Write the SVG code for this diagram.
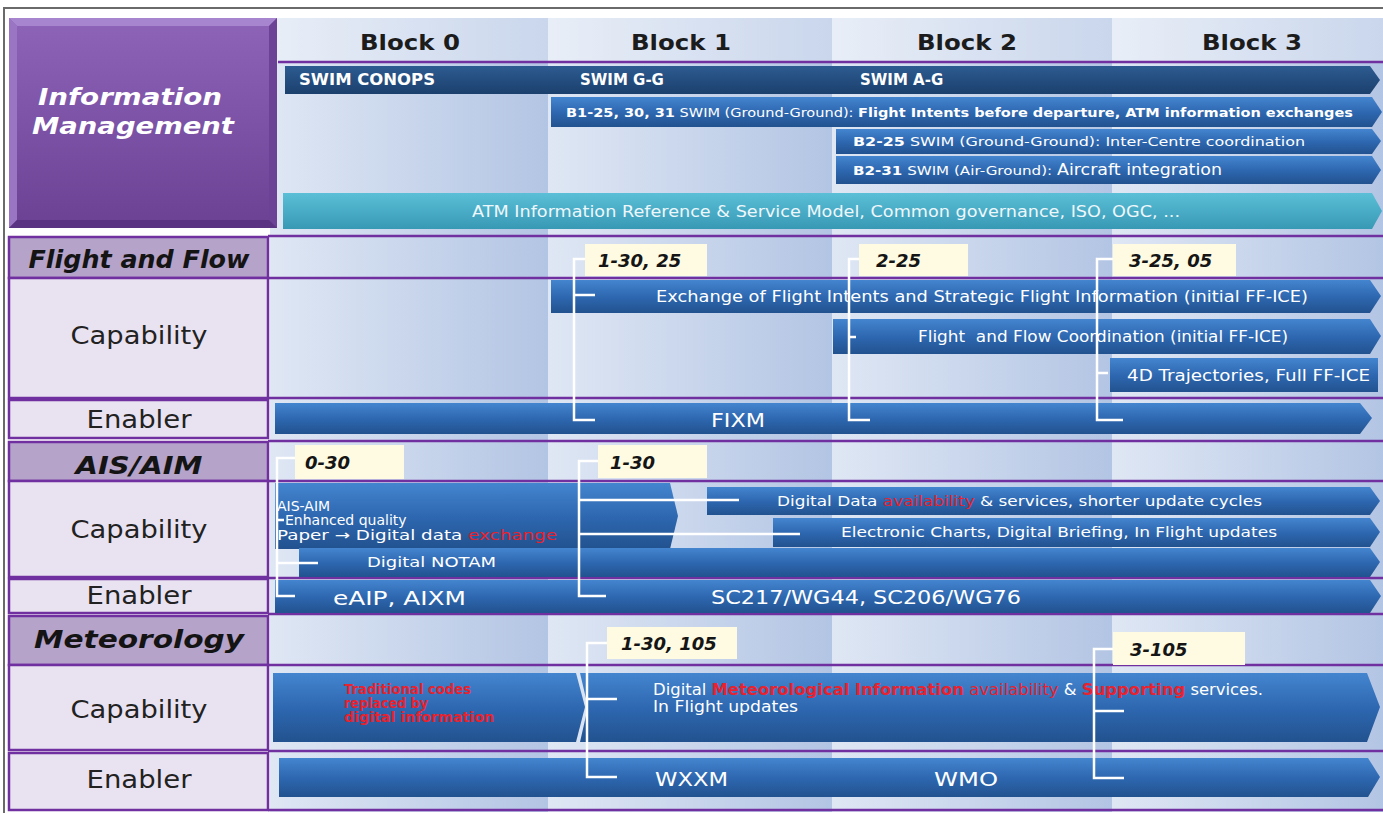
<svg xmlns="http://www.w3.org/2000/svg" width="1383" height="813" viewBox="0 0 1383 813">
<style>
  text { font-family: "DejaVu Sans", "Liberation Sans", sans-serif; }
  .blk { font-size: 22px; font-weight: bold; fill: #1c1c1c; text-anchor: middle; }
  .sec { font-size: 24px; font-weight: bold; font-style: italic; fill: #141414; text-anchor: middle; }
  .sub { font-size: 24px; fill: #222; text-anchor: middle; }
  .w { fill: #ffffff; }
  .b13 { font-size: 13px; }
  .b14 { font-size: 14px; }
  .b15 { font-size: 15px; }
  .b19 { font-size: 19px; }
  .bold { font-weight: bold; }
  .red { fill: #e8222e; }
  .lab { font-size: 18px; font-weight: bold; font-style: italic; fill: #151515; }
  .cell { stroke: #7030a0; stroke-width: 2.5; }
  .sech { fill: #b5a3ca; }
  .subc { fill: #e9e2f0; }
  .grid { stroke: #7030a0; stroke-width: 2.5; fill: none; }
  .bar { fill: url(#barG); }
  .navy { fill: url(#navyG); }
  .teal { fill: url(#tealG); }
  .box { fill: #fffbe3; }
  .br { stroke: #ffffff; stroke-width: 2.5; fill: none; }
</style>
<defs>
  <linearGradient id="colG" x1="0" y1="0" x2="1" y2="0">
    <stop offset="0" stop-color="#dfe7f4"/>
    <stop offset="1" stop-color="#b3c5e4"/>
  </linearGradient>
  <linearGradient id="barG" x1="0" y1="0" x2="0" y2="1">
    <stop offset="0" stop-color="#4485cf"/>
    <stop offset="0.5" stop-color="#2e68b1"/>
    <stop offset="1" stop-color="#22528f"/>
  </linearGradient>
  <linearGradient id="navyG" x1="0" y1="0" x2="0" y2="1">
    <stop offset="0" stop-color="#2d5b91"/>
    <stop offset="1" stop-color="#1b406d"/>
  </linearGradient>
  <linearGradient id="tealG" x1="0" y1="0" x2="0" y2="1">
    <stop offset="0" stop-color="#5bbfd7"/>
    <stop offset="1" stop-color="#3899b5"/>
  </linearGradient>
  <linearGradient id="purG" x1="0" y1="0" x2="0" y2="1">
    <stop offset="0" stop-color="#8e64b9"/>
    <stop offset="1" stop-color="#6b4194"/>
  </linearGradient>
</defs>

<rect x="0" y="0" width="1383" height="813" fill="#ffffff"/>

<g id="columns">
  <rect x="270" y="18" width="278" height="794" fill="url(#colG)"/>
  <rect x="548" y="18" width="284" height="794" fill="url(#colG)"/>
  <rect x="832" y="18" width="280" height="794" fill="url(#colG)"/>
  <rect x="1112" y="18" width="271" height="794" fill="url(#colG)"/>
  <rect x="270" y="18" width="1113" height="44" fill="#ffffff" opacity="0.3"/>
</g>

<g id="frame" stroke="#6a6a6a" stroke-width="2" fill="none">
  <path d="M4 813 V8 H1383"/>
</g>

<g id="grid">
  <path class="grid" d="M278 62 H1383 M268 236 H1383 M268 278 H1383 M268 398 H1383 M268 441 H1383 M268 481 H1383 M268 578 H1383 M268 614 H1383 M268 665 H1383 M268 751 H1383 M268 810 H1383"/>
</g>

<g id="info-management">
  <rect x="9" y="18" width="268" height="210" fill="url(#purG)"/>
  <polygon points="9,18 277,18 269,26 17,26" fill="#a886cf"/>
  <polygon points="9,18 17,26 17,220 9,228" fill="#9a75c3"/>
  <polygon points="277,18 277,228 269,220 269,26" fill="#6c4296"/>
  <polygon points="9,228 17,220 269,220 277,228" fill="#5a3482"/>
  <text x="130" y="105" fill="#ffffff" font-size="23" font-weight="bold" font-style="italic" text-anchor="middle" textLength="184" lengthAdjust="spacingAndGlyphs">Information</text>
  <text x="133" y="134" fill="#ffffff" font-size="23" font-weight="bold" font-style="italic" text-anchor="middle" textLength="202" lengthAdjust="spacingAndGlyphs">Management</text>
</g>

<g id="block-headers">
  <text class="blk" x="410" y="50" textLength="100" lengthAdjust="spacingAndGlyphs">Block 0</text>
  <text class="blk" x="681" y="50" textLength="100" lengthAdjust="spacingAndGlyphs">Block 1</text>
  <text class="blk" x="967" y="50" textLength="100" lengthAdjust="spacingAndGlyphs">Block 2</text>
  <text class="blk" x="1252" y="50" textLength="100" lengthAdjust="spacingAndGlyphs">Block 3</text>
</g>

<g id="im-swim">
  <path class="navy" d="M285 66 H1370 L1380 80 L1370 94 H285 Z"/>
  <text class="w b15 bold" x="299" y="85" textLength="136" lengthAdjust="spacingAndGlyphs">SWIM CONOPS</text>
  <text class="w b15 bold" x="580" y="85">SWIM G-G</text>
  <text class="w b15 bold" x="860" y="85">SWIM A-G</text>
</g>
<g id="im-b1">
  <path class="bar" d="M551 97 H1372 L1382 112 L1372 127 H551 Z"/>
  <text class="w b13" x="566" y="117" textLength="787" lengthAdjust="spacingAndGlyphs"><tspan class="bold">B1-25, 30, 31</tspan> SWIM (Ground-Ground): <tspan class="bold">Flight Intents before departure, ATM information exchanges</tspan></text>
</g>
<g id="im-b2-25">
  <path class="bar" d="M836 129 H1372 L1381 141 L1372 154 H836 Z"/>
  <text class="w b13" x="853" y="146" textLength="452" lengthAdjust="spacingAndGlyphs"><tspan class="bold">B2-25</tspan> SWIM (Ground-Ground): Inter-Centre coordination</text>
</g>
<g id="im-b2-31">
  <path class="bar" d="M836 156 H1372 L1381 170 L1372 184 H836 Z"/>
  <text class="w b13" x="853" y="175" textLength="369" lengthAdjust="spacingAndGlyphs"><tspan class="bold">B2-31</tspan> SWIM (Air-Ground): <tspan font-size="15">Aircraft integration</tspan></text>
</g>
<g id="im-atm">
  <path class="teal" d="M283 193 H1372 L1382 211 L1372 229 H283 Z"/>
  <text class="b15" fill="#eef7fb" x="472" y="217" textLength="708" lengthAdjust="spacingAndGlyphs">ATM Information Reference &amp; Service Model, Common governance, ISO, OGC, ...</text>
</g>

<g id="labels">
  <rect class="cell sech" x="9" y="237" width="259" height="41"/>
  <text class="sec" x="139" y="268" textLength="221" lengthAdjust="spacingAndGlyphs">Flight and Flow</text>
  <rect class="cell subc" x="9" y="278" width="259" height="120"/>
  <text class="sub" x="139" y="344" textLength="137" lengthAdjust="spacingAndGlyphs">Capability</text>
  <rect class="cell subc" x="9" y="400" width="259" height="38"/>
  <text class="sub" x="139" y="428" textLength="105" lengthAdjust="spacingAndGlyphs">Enabler</text>

  <rect class="cell sech" x="9" y="442" width="259" height="39"/>
  <text class="sec" x="139" y="474" textLength="127" lengthAdjust="spacingAndGlyphs">AIS/AIM</text>
  <rect class="cell subc" x="9" y="481" width="259" height="96"/>
  <text class="sub" x="139" y="538" textLength="137" lengthAdjust="spacingAndGlyphs">Capability</text>
  <rect class="cell subc" x="9" y="579" width="259" height="34"/>
  <text class="sub" x="139" y="604" textLength="105" lengthAdjust="spacingAndGlyphs">Enabler</text>

  <rect class="cell sech" x="9" y="616" width="259" height="49"/>
  <text class="sec" x="139" y="648" textLength="210" lengthAdjust="spacingAndGlyphs">Meteorology</text>
  <rect class="cell subc" x="9" y="665" width="259" height="85"/>
  <text class="sub" x="139" y="718" textLength="137" lengthAdjust="spacingAndGlyphs">Capability</text>
  <rect class="cell subc" x="9" y="753" width="259" height="57"/>
  <text class="sub" x="139" y="788" textLength="105" lengthAdjust="spacingAndGlyphs">Enabler</text>
</g>

<g id="ff-exchange">
  <path class="bar" d="M551 280 H1370 L1381 296 L1370 313 H551 Z"/>
  <text class="w b15" x="656" y="302" textLength="652" lengthAdjust="spacingAndGlyphs">Exchange of Flight Intents and Strategic Flight Information (initial FF-ICE)</text>
</g>
<g id="ff-coordination">
  <path class="bar" d="M833 319 H1370 L1381 336 L1370 354 H833 Z"/>
  <text class="w b15" x="918" y="342" textLength="370" lengthAdjust="spacingAndGlyphs" style="white-space:pre">Flight  and Flow Coordination (initial FF-ICE)</text>
</g>
<g id="ff-4d">
  <path class="bar" d="M1110 358 H1378 V392 H1110 Z"/>
  <text class="w b15" x="1127" y="381" textLength="243" lengthAdjust="spacingAndGlyphs">4D Trajectories, Full FF-ICE</text>
</g>
<g id="ff-fixm">
  <path class="bar" d="M275 403 H1360 L1372 418 L1360 434 H275 Z"/>
  <text class="w b19" x="711" y="427" textLength="54" lengthAdjust="spacingAndGlyphs">FIXM</text>
</g>

<g id="ais-aim-bar">
  <path class="bar" d="M275 483 H670 L678 516 L670 549 H275 Z"/>
  <text class="w b14" x="277" y="511">AIS-AIM</text>
  <text class="w b14" x="285" y="525">Enhanced quality</text>
  <text class="w b14" x="277" y="540" textLength="280" lengthAdjust="spacingAndGlyphs">Paper → Digital data <tspan class="red">exchange</tspan></text>
</g>
<g id="ais-digital-data">
  <path class="bar" d="M707 487 H1370 L1380 501 L1370 515 H707 Z"/>
  <text class="w b14" x="777" y="506" textLength="485" lengthAdjust="spacingAndGlyphs">Digital Data <tspan class="red">availability</tspan> &amp; services, shorter update cycles</text>
</g>
<g id="ais-charts">
  <path class="bar" d="M773 518 H1370 L1380 532 L1370 547 H773 Z"/>
  <text class="w b14" x="841" y="537" textLength="436" lengthAdjust="spacingAndGlyphs">Electronic Charts, Digital Briefing, In Flight updates</text>
</g>
<g id="ais-notam">
  <path class="bar" d="M299 548 H1370 L1380 562 L1370 577 H299 Z"/>
  <text class="w b14" x="367" y="567" textLength="129" lengthAdjust="spacingAndGlyphs">Digital NOTAM</text>
</g>
<g id="ais-enabler">
  <path class="bar" d="M275 580 H1370 L1381 596 L1370 613 H275 Z"/>
  <text class="w b19" x="333" y="605" textLength="133" lengthAdjust="spacingAndGlyphs">eAIP, AIXM</text>
  <text class="w b19" x="711" y="604" textLength="310" lengthAdjust="spacingAndGlyphs">SC217/WG44, SC206/WG76</text>
</g>

<g id="met-traditional">
  <path class="bar" d="M273 673 H576 L585 707 L576 742 H273 Z"/>
  <text class="red b14 bold" x="344" y="694" textLength="127" lengthAdjust="spacingAndGlyphs">Traditional codes</text>
  <text class="red b14 bold" x="344" y="708" textLength="84" lengthAdjust="spacingAndGlyphs">replaced by</text>
  <text class="red b14 bold" x="344" y="722" textLength="150" lengthAdjust="spacingAndGlyphs">digital information</text>
</g>
<g id="met-digital">
  <path class="bar" d="M580 673 H1367 L1380 707 L1367 742 H580 L588 707 Z"/>
  <text class="w b15" x="653" y="695" textLength="610" lengthAdjust="spacingAndGlyphs">Digital <tspan class="red bold">Meteorological Information</tspan><tspan class="red"> availability</tspan> &amp; <tspan class="red bold">Supporting</tspan> services.</text>
  <text class="w b15" x="653" y="712" textLength="145" lengthAdjust="spacingAndGlyphs">In Flight updates</text>
</g>
<g id="met-enabler">
  <path class="bar" d="M279 758 H1368 L1380 777 L1368 797 H279 Z"/>
  <text class="w b19" x="655" y="786" textLength="73" lengthAdjust="spacingAndGlyphs">WXXM</text>
  <text class="w b19" x="934" y="786" textLength="64" lengthAdjust="spacingAndGlyphs">WMO</text>
</g>

<g id="connectors">
  <path class="br" d="M585 259 H574 V420 H595 M574 295 H595"/>
  <path class="br" d="M859 259 H849 V420 H870 M849 337 H856"/>
  <path class="br" d="M1113 259 H1097 V420 H1123 M1097 373 H1108"/>
  <path class="br" d="M295 458 H277 V596 H295 M277 520 H284 M277 563 H318"/>
  <path class="br" d="M598 461 H579 V596 H606 M579 500 H739 M579 534 H800"/>
  <path class="br" d="M607 643 H587 V777 H617 M587 699 H617"/>
  <path class="br" d="M1113 649 H1094 V778 H1124 M1094 711 H1124"/>
</g>

<g id="ref-1-30-25"><rect class="box" x="585" y="244" width="122" height="32"/><text class="lab" x="598" y="267">1-30, 25</text></g>
<g id="ref-2-25"><rect class="box" x="859" y="244" width="109" height="32"/><text class="lab" x="876" y="267">2-25</text></g>
<g id="ref-3-25-05"><rect class="box" x="1113" y="244" width="123" height="32"/><text class="lab" x="1129" y="267">3-25, 05</text></g>
<g id="ref-0-30"><rect class="box" x="295" y="445" width="109" height="34"/><text class="lab" x="305" y="469">0-30</text></g>
<g id="ref-1-30"><rect class="box" x="598" y="445" width="109" height="33"/><text class="lab" x="610" y="469">1-30</text></g>
<g id="ref-1-30-105"><rect class="box" x="607" y="627" width="130" height="32"/><text class="lab" x="621" y="650">1-30, 105</text></g>
<g id="ref-3-105"><rect class="box" x="1113" y="632" width="132" height="33"/><text class="lab" x="1130" y="656">3-105</text></g>
</svg>
